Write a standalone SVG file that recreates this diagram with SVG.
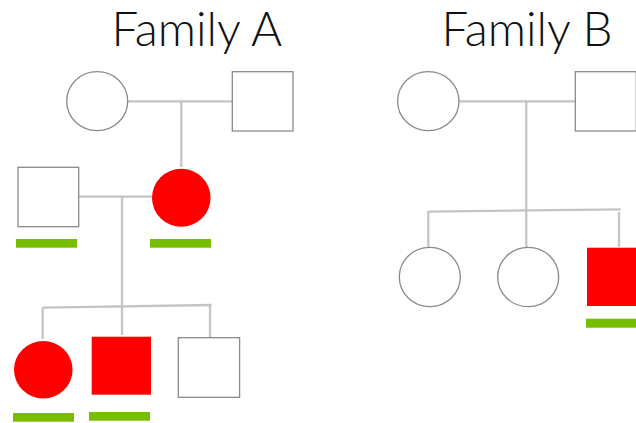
<svg xmlns="http://www.w3.org/2000/svg" width="636" height="423" viewBox="0 0 636 423">
  <style>
    .title { font-family: Lato, "Open Sans", sans-serif; font-size: 47.5px; font-weight: 300; fill: #111; }
    .open { fill: #fff; stroke: #8a8a8a; stroke-width: 1.3; }
    .affected { fill: #ff0000; stroke: none; }
    .carrier { fill: #77bd00; }
    .link { fill: none; stroke: #c4c4c4; stroke-width: 2.3; stroke-linecap: butt; }
  </style>
  <rect width="636" height="423" fill="#fff"/>

  <text class="title" x="111.5" y="45.7">Family A</text>
  <text class="title" x="441.5" y="45.7">Family B</text>

  <g id="connectors">
    <!-- Family A -->
    <path class="link" d="M128 101.3 H232"/>
    <path class="link" d="M181.3 101.3 V167"/>
    <path class="link" d="M79 196.7 H152"/>
    <path class="link" d="M122 196.7 V335"/>
    <path class="link" d="M42.7 307.7 L211.7 305"/>
    <path class="link" d="M42.7 307.5 V339"/>
    <path class="link" d="M210 305 V337"/>
    <!-- Family B -->
    <path class="link" d="M459 101.3 H575"/>
    <path class="link" d="M526.3 101.3 V247"/>
    <path class="link" d="M428.3 211.7 L620.7 209.3"/>
    <path class="link" d="M428.3 211 V247.3"/>
    <path class="link" d="M619 212 V246.7"/>
  </g>

  <g id="a-grandmother"><ellipse class="open" cx="97.2" cy="101.2" rx="30.5" ry="29.5"/></g>
  <g id="a-grandfather"><rect class="open" x="232.3" y="71.7" width="60.7" height="59.3"/></g>
  <g id="a-father"><rect class="open" x="18" y="167.3" width="60.7" height="59.4"/></g>
  <g id="a-mother">
    <ellipse class="affected" cx="181.3" cy="197.8" rx="29.3" ry="29"/>
    <rect class="carrier" x="150" y="239" width="61" height="8.7"/>
  </g>
  <g id="a-father-marker"><rect class="carrier" x="16" y="239" width="61" height="8.7"/></g>
  <g id="a-daughter">
    <ellipse class="affected" cx="43.3" cy="369.7" rx="29.3" ry="28.7"/>
    <rect class="carrier" x="13" y="413" width="61" height="8.7"/>
  </g>
  <g id="a-son">
    <rect class="affected" x="91.7" y="336.7" width="59.3" height="58"/>
    <rect class="carrier" x="89" y="412" width="61" height="8.7"/>
  </g>
  <g id="a-son-2"><rect class="open" x="178.3" y="337.7" width="61.3" height="59.6"/></g>

  <g id="b-mother"><ellipse class="open" cx="428.3" cy="101.2" rx="30.7" ry="29.5"/></g>
  <g id="b-father"><rect class="open" x="575.3" y="71.7" width="61" height="59.3"/></g>
  <g id="b-daughter-1"><ellipse class="open" cx="429.8" cy="277" rx="30.5" ry="29.7"/></g>
  <g id="b-daughter-2"><ellipse class="open" cx="528.2" cy="277" rx="30.5" ry="29.7"/></g>
  <g id="b-son">
    <rect class="affected" x="587" y="247.7" width="59" height="58.3"/>
    <rect class="carrier" x="586" y="318.7" width="60" height="9"/>
  </g>
</svg>
